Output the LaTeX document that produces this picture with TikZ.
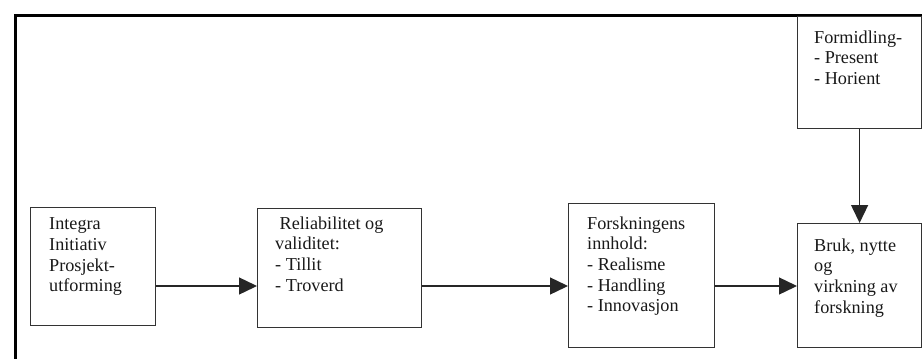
\documentclass[tikz,border=0pt]{standalone}
\usepackage{fontspec}
\setmainfont{Liberation Serif}
\usetikzlibrary{arrows.meta}
\begin{document}
\begin{tikzpicture}[x=1pt,y=1pt,
  frame/.style={line width=3pt,black},
  box/.style={draw=black!80,line width=1.2pt,rectangle,inner sep=0pt,anchor=north west},
  label/.style={inner sep=0pt,anchor=north west,align=left,text=black!90,
    font=\fontsize{18.2}{20.6}\selectfont},
  arr/.style={line width=1.4pt,black!85,-{Triangle[length=18pt,width=17pt]}}]
\useasboundingbox (0,0) rectangle (922,-359);
% outer frame: top and left edges only
\draw[frame] (15.5,-359) -- (15.5,-15.5) -- (922,-15.5);
% boxes
\node[box,minimum width=125pt,minimum height=118pt] (b1) at (30,-207) {};
\node[box,minimum width=164pt,minimum height=119pt] (b2) at (257,-208) {};
\node[box,minimum width=146pt,minimum height=144pt] (b3) at (568,-203) {};
\node[box,minimum width=124pt,minimum height=124pt] (b4) at (797,-223) {};
\node[box,minimum width=124pt,minimum height=112.5pt] (bf) at (797,-15.5) {};
% box texts
\node[label] (t1) at (49,-217.8) {Integra\\Initiativ\\Prosjekt-\\utforming};
\node[label] (t2) at (275,-216.4) {\hspace*{4.5pt}Reliabilitet og\\validitet:\\- Tillit\\- Troverd};
\node[label] (t3) at (587,-216.4) {Forskningens\\innhold:\\- Realisme\\- Handling\\- Innovasjon};
\node[label] (t4) at (814,-238.4) {Bruk, nytte\\og\\virkning av\\forskning};
\node[label] (tf) at (814,-30.4) {Formidling-\\- Present\\- Horient};
% connectors
\coordinate (ay) at (0,-286);
\draw[arr] (b1.east |- ay) -- (b2.west |- ay);
\draw[arr] (b2.east |- ay) -- (b3.west |- ay);
\draw[arr] (b3.east |- ay) -- (b4.west |- ay);
\draw[arr] (bf.south) -- (b4.north);
\end{tikzpicture}
\end{document}
